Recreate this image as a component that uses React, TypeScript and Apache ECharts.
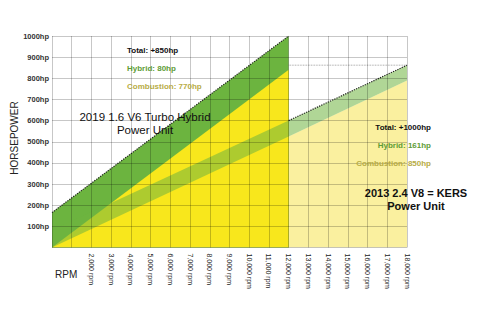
import React, { useEffect, useRef } from "react";
import * as echarts from "echarts";

// 2019 1.6 V6 Turbo Hybrid
const rpm2019 = [0, 12000];
const total2019 = [165, 1000];
const combustion2019 = [0, 840];

// 2013 2.4 V8 + KERS
const rpm2013 = [0, 12000, 18000];
const total2013 = [80, 600, 862];
const combustion2013 = [0, 525, 790];

// reference cap line
const rpmCap = [12000, 18000];
const hpCap = [862, 862];

const notes2019 = ["Total: +850hp", "Hybrid: 80hp", "Combustion: 770hp"];
const notes2013 = ["Total: +1000hp", "Hybrid: 161hp", "Combustion: 850hp"];
const title2019 = ["2019 1.6 V6 Turbo Hybrid", "Power Unit"];
const title2013 = ["2013 2.4 V8 = KERS", "Power Unit"];

const zip = (xs: number[], ys: number[]) => xs.map((x, i) => [x, ys[i]]);

const fmtRpm = (v: number) => {
  const s = String(v);
  return s.length > 3 ? s.slice(0, s.length - 3) + "," + s.slice(-3) : s;
};

const FONT = "Liberation Sans, Arial, sans-serif";
const noteColors = ["#111111", "#5e9c36", "#b8ac45"];

export default function App() {
  const ref = useRef<HTMLDivElement>(null);
  useEffect(() => {
    if (!ref.current) return;
    const chart = echarts.init(ref.current, undefined, { renderer: "svg" });
    chart.setOption({
      animation: false,
      grid: { left: 52, right: 73, top: 36, bottom: 72.5 },
      xAxis: {
        type: "value",
        min: 0,
        max: 18000,
        interval: 1000,
        z: 10,
        axisLine: { show: false },
        axisTick: { show: false },
        splitLine: { show: true, lineStyle: { color: "rgba(0,0,0,0.22)", width: 1 } },
        axisLabel: {
          rotate: -90,
          margin: 6,
          fontSize: 7,
          fontFamily: FONT,
          color: "#222",
          formatter: (v: number) => (v < 2000 ? "" : fmtRpm(v) + " rpm"),
        },
      },
      yAxis: {
        type: "value",
        min: 0,
        max: 1000,
        interval: 100,
        z: 10,
        axisLine: { show: false },
        axisTick: { show: false },
        splitLine: { show: true, lineStyle: { color: "rgba(0,0,0,0.22)", width: 1 } },
        axisLabel: {
          margin: 3,
          fontSize: 7.5,
          fontWeight: "bold",
          fontFamily: FONT,
          color: "#333",
          formatter: (v: number) => (v === 0 ? "" : v + "hp"),
        },
      },
      series: [
        {
          type: "line",
          data: zip(rpm2013, combustion2013),
          showSymbol: false,
          lineStyle: { width: 0 },
          areaStyle: { color: "#faf09f", opacity: 1 },
          z: 1,
        },
        {
          type: "line",
          data: zip(rpm2019, total2019),
          showSymbol: false,
          lineStyle: { color: "#222", width: 1.2, type: "dotted" },
          areaStyle: { color: "#6cb43f", opacity: 1 },
          z: 2,
        },
        {
          type: "line",
          data: zip(rpm2019, combustion2019),
          showSymbol: false,
          lineStyle: { width: 0 },
          areaStyle: { color: "#f8e71c", opacity: 1 },
          z: 3,
        },
        {
          type: "custom",
          data: [[0, 0]],
          silent: true,
          z: 4,
          renderItem: (_params: any, api: any) => {
            const top = rpm2013.map((x, i) => api.coord([x, total2013[i]]));
            const bot = rpm2013.map((x, i) => api.coord([x, combustion2013[i]])).reverse();
            return {
              type: "polygon",
              shape: { points: [...top, ...bot] },
              style: { fill: "rgba(112,180,64,0.55)" },
            };
          },
        },
        {
          type: "line",
          data: zip(rpm2013.slice(1), total2013.slice(1)),
          showSymbol: false,
          lineStyle: { color: "#222", width: 1.2, type: "dotted" },
          z: 5,
        },
        {
          type: "line",
          data: zip(rpmCap, hpCap),
          showSymbol: false,
          lineStyle: { color: "#888", width: 0.8, type: "dotted" },
          z: 5,
        },
      ],
      graphic: [
        {
          type: "text",
          x: 14,
          y: 138,
          rotation: Math.PI / 2,
          style: {
            text: "HORSEPOWER",
            font: `10px ${FONT}`,
            fill: "#222",
            textAlign: "center",
            textVerticalAlign: "middle",
          },
        },
        {
          type: "text",
          x: 55,
          y: 274,
          style: { text: "RPM", font: `10px ${FONT}`, fill: "#222", textVerticalAlign: "middle" },
        },
        ...notes2019.map((t, i) => ({
          type: "text",
          x: 127,
          y: 50.5 + i * 18,
          z: 20,
          style: {
            text: t,
            font: `bold 8px ${FONT}`,
            fill: noteColors[i],
            textVerticalAlign: "middle",
          },
        })),
        ...notes2013.map((t, i) => ({
          type: "text",
          x: 431,
          y: 127.5 + i * 18,
          z: 20,
          style: {
            text: t,
            font: `bold 8px ${FONT}`,
            fill: noteColors[i],
            textAlign: "right",
            textVerticalAlign: "middle",
          },
        })),
        ...title2019.map((t, i) => ({
          type: "text",
          x: 145,
          y: 117 + i * 13,
          z: 20,
          style: {
            text: t,
            font: `11.5px ${FONT}`,
            fill: "#111",
            textAlign: "center",
            textVerticalAlign: "middle",
          },
        })),
        ...title2013.map((t, i) => ({
          type: "text",
          x: 416,
          y: 193 + i * 12.5,
          z: 20,
          style: {
            text: t,
            font: `bold 11px ${FONT}`,
            fill: "#111",
            textAlign: "center",
            textVerticalAlign: "middle",
          },
        })),
      ],
    });
    return () => chart.dispose();
  }, []);
  return (
    <div
      ref={ref}
      style={{ position: "absolute", left: 0, top: 0, width: 480, height: 320, background: "#fff" }}
    />
  );
}
